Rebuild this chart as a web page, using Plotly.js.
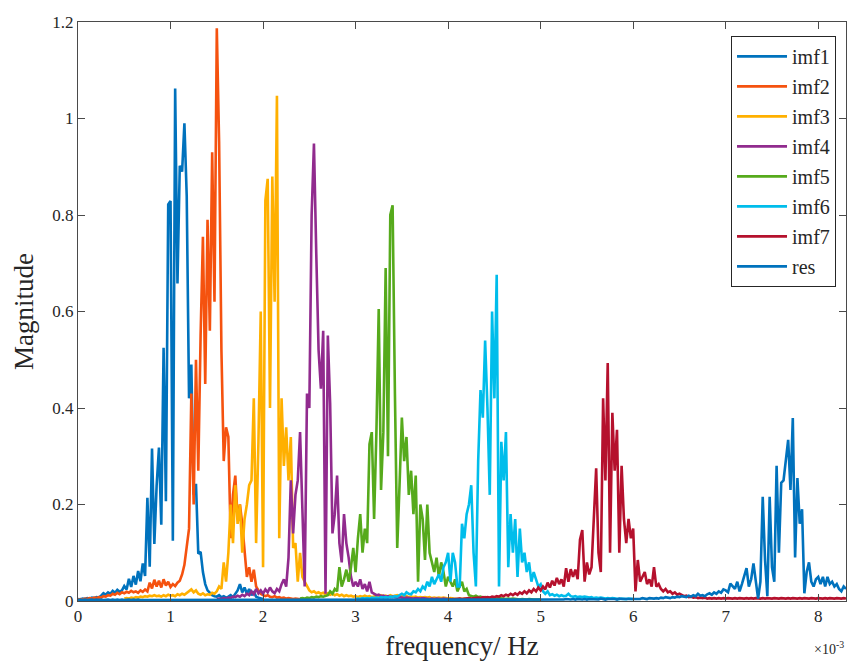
<!DOCTYPE html>
<html>
<head>
<meta charset="utf-8">
<script src="https://cdn.plot.ly/plotly-3.0.1.min.js"></script>
<style>
  html, body { margin: 0; padding: 0; background: #ffffff; }
  #chart { width: 847px; height: 662px; }
</style>
</head>
<body>
<div id="chart"></div>
<script>
// Amplitude spectra of the decomposed components.
// Frequencies are in units of 1e-3 Hz; every series is sampled on bins 0.025 apart,
// starting at its own first bin.
const binWidth = 0.025;

const seriesNames = ['imf1', 'imf2', 'imf3', 'imf4', 'imf5', 'imf6', 'imf7', 'res'];

const imf1Start = 0.0;
const imf1Mag = [
  .004,.003,.005,.004,.006,.005,.007,.006,.008,.007,
  .011,.016,.013,.018,.015,.021,.017,.023,.019,.022,
  .031,.024,.046,.029,.052,.034,.062,.041,.078,.052,
  .214,.071,.316,.118,.24,.318,.158,.525,.207,.822,
  .829,.125,1.062,.658,.902,.89,.99,.84,.42,.49,
  .22,.243,.098,.102,.06,.035,.022,.016,.012,.01,
  .009,.012,.008,.01,.007,.009,.012,.008,.015,.022,
  .035,.018,.028,.015,.025,.012,.02,.009,.007,.005,
  .004
];

const imf2Start = 0.0;
const imf2Mag = [
  .003,.004,.003,.005,.004,.006,.005,.007,.006,.008,
  .007,.01,.009,.012,.011,.015,.013,.017,.014,.018,
  .016,.019,.017,.021,.018,.02,.017,.022,.019,.024,
  .02,.038,.026,.044,.03,.042,.028,.045,.032,.04,
  .029,.035,.031,.038,.042,.055,.075,.11,.15,.43,
  .2,.5,.27,.55,.755,.45,.79,.56,.93,.62,
  1.187,.952,.52,.29,.36,.34,.13,.22,.26,.17,
  .2,.16,.1,.05,.07,.04,.065,.03,.022,.015,
  .012,.01,.012,.009,.008,.01,.007,.008,.006,.007,
  .005,.006,.005,.004,.005,.004,.004,.003,.004,.003,
  .003
];

const imf3Start = 0.5;
const imf3Mag = [
  .005,.006,.005,.007,.006,.008,.007,.009,.008,.01,
  .009,.011,.01,.012,.01,.011,.009,.012,.01,.013,
  .011,.012,.01,.014,.012,.015,.013,.017,.02,.024,
  .018,.022,.015,.013,.016,.012,.014,.013,.017,.015,
  .02,.03,.025,.08,.04,.1,.2,.12,.24,.16,
  .2,.1,.17,.2,.24,.25,.42,.12,.33,.6,
  .07,.83,.875,.4,.88,.62,1.047,.13,.42,.28,
  .36,.25,.34,.11,.12,.04,.1,.05,.04,.03,
  .022,.018,.02,.016,.018,.015,.017,.014,.016,.013,
  .015,.012,.014,.011,.013,.01,.012,.01,.011,.009,
  .01,.008,.01,.009,.011,.009,.01,.008,.01,.011,
  .009,.012,.01,.011,.009,.012,.01,.011,.012,.01,
  .011,.009,.01,.008,.009,.008,.009,.007,.008,.007,
  .008,.007,.008,.006,.007,.006,.007,.006,.007,.006,
  .005,.006,.005,.005,.004,.005,.004,.005,.004,.004,
  .004,.003,.004,.003,.004,.003,.003,.004,.003,.003,
  .003
];

const imf4Start = 1.5;
const imf4Mag = [
  .004,.005,.004,.006,.005,.007,.006,.009,.008,.011,
  .009,.013,.01,.015,.012,.02,.014,.025,.016,.022,
  .015,.024,.018,.028,.02,.016,.025,.02,.035,.045,
  .03,.09,.25,.14,.22,.25,.35,.19,.03,.43,
  .4,.8,.948,.72,.52,.44,.56,.015,.55,.41,
  .14,.18,.26,.12,.08,.18,.12,.09,.05,.03,
  .04,.03,.045,.025,.035,.02,.04,.018,.015,.012,
  .013,.01,.011,.009,.01,.008,.009,.008,.007,.008,
  .007,.006,.007,.006,.006,.005,.006,.005,.005,.006,
  .005,.005,.004,.005,.004,.005,.004,.004,.005,.004,
  .004,.003,.004,.004,.003,.004,.003,.003,.004,.003,
  .003,.003,.003
];

const imf5Start = 2.4;
const imf5Mag = [
  .005,.006,.005,.007,.006,.008,.007,.009,.008,.01,
  .009,.011,.012,.02,.015,.025,.02,.07,.03,.045,
  .065,.04,.07,.11,.06,.13,.18,.1,.15,.12,
  .325,.35,.17,.35,.605,.23,.35,.69,.3,.8,
  .82,.43,.11,.24,.38,.29,.34,.22,.27,.18,
  .26,.04,.2,.17,.085,.2,.1,.08,.06,.09,
  .05,.08,.06,.03,.05,.04,.03,.045,.02,.03,
  .04,.02,.025,.012,.01,.009,.011,.008,.009,.007,
  .008,.007,.006,.007,.006,.005,.006,.005,.005,.004,
  .005,.004,.005,.004,.004,.003,.004,.003,.003,.004,
  .003,.003,.003,.003,.003
];

const imf6Start = 3.0;
const imf6Mag = [
  .004,.005,.004,.006,.005,.006,.005,.007,.006,.007,
  .006,.008,.007,.008,.007,.009,.008,.01,.009,.012,
  .015,.012,.018,.015,.014,.02,.018,.025,.02,.03,
  .025,.04,.03,.05,.035,.045,.055,.04,.07,.08,
  .1,.04,.1,.08,.03,.03,.16,.13,.18,.2,
  .24,.1,.03,.29,.437,.38,.54,.4,.22,.6,
  .42,.676,.03,.33,.25,.35,.07,.18,.1,.17,
  .05,.15,.08,.1,.06,.08,.04,.06,.045,.03,
  .035,.02,.015,.02,.012,.014,.011,.013,.01,.012,
  .01,.011,.015,.01,.009,.01,.008,.009,.008,.009,
  .008,.007,.008,.006,.007,.006,.007,.006,.005,.006,
  .005,.006,.005,.005,.004,.005,.004,.004,.005,.004,
  .004
];

const imf7Start = 4.0;
const imf7Mag = [
  .003,.004,.003,.004,.004,.005,.004,.005,.005,.006,
  .005,.006,.006,.007,.006,.008,.007,.008,.007,.009,
  .008,.01,.009,.012,.01,.013,.011,.015,.012,.016,
  .013,.018,.015,.02,.016,.022,.018,.025,.02,.028,
  .022,.03,.024,.038,.028,.042,.032,.048,.035,.045,
  .03,.068,.04,.066,.05,.065,.045,.127,.147,.04,
  .08,.055,.07,.18,.275,.1,.06,.42,.25,.493,
  .1,.39,.27,.355,.1,.28,.17,.12,.17,.13,
  .15,.02,.085,.04,.05,.06,.035,.045,.03,.07,
  .03,.035,.025,.02,.025,.018,.02,.015,.018,.013,
  .015,.012,.01,.011,.008,.009,.007,.008,.006,.007,
  .006,.007,.005,.006,.005,.006,.005,.006,.005,.006,
  .005,.006,.005,.005,.006,.005,.006,.005,.005,.006,
  .005,.006,.005,.006,.005,.005,.006,.005,.006,.005,
  .005,.006,.005,.005,.006,.005,.005,.006,.005,.006,
  .005,.005,.006,.005,.006,.005,.005,.006,.005,.005,
  .006,.005,.005,.006,.005,.006,.005,.005,.006,.005,
  .005,.006,.005
];

const resStart = 0.0;
const resMag = [
  .002,.003,.002,.003,.002,.003,.003,.002,.003,.002,
  .003,.002,.003,.003,.002,.003,.002,.003,.002,.003,
  .002,.003,.003,.002,.003,.002,.003,.002,.002,.003,
  .003,.002,.003,.002,.003,.003,.002,.003,.002,.003,
  .002,.003,.002,.003,.003,.002,.003,.002,.003,.002,
  .003,.002,.003,.002,.003,.003,.002,.003,.002,.003,
  .002,.003,.003,.002,.003,.002,.003,.002,.003,.003,
  .002,.003,.002,.003,.002,.003,.003,.002,.003,.002,
  .003,.002,.003,.003,.002,.003,.002,.003,.002,.003,
  .002,.003,.002,.003,.003,.002,.003,.002,.003,.002,
  .003,.003,.002,.003,.002,.003,.002,.003,.003,.002,
  .003,.002,.003,.002,.003,.003,.002,.003,.002,.003,
  .002,.003,.003,.002,.003,.002,.003,.002,.003,.003,
  .002,.003,.002,.003,.002,.003,.003,.002,.003,.002,
  .003,.002,.003,.003,.002,.003,.002,.003,.002,.003,
  .002,.003,.002,.003,.003,.002,.003,.002,.003,.002,
  .003,.003,.002,.003,.002,.003,.002,.003,.003,.002,
  .003,.002,.003,.002,.003,.003,.002,.003,.002,.003,
  .002,.003,.003,.002,.003,.002,.003,.002,.003,.003,
  .002,.003,.002,.003,.002,.003,.003,.002,.003,.002,
  .003,.002,.003,.003,.002,.003,.002,.003,.002,.003,
  .003,.004,.003,.003,.004,.003,.004,.003,.003,.004,
  .003,.004,.004,.003,.004,.003,.005,.004,.003,.004,
  .004,.005,.004,.003,.005,.004,.004,.005,.004,.005,
  .004,.005,.005,.004,.006,.005,.004,.006,.005,.005,
  .006,.005,.007,.006,.008,.007,.006,.008,.007,.009,
  .008,.01,.009,.008,.011,.009,.012,.01,.015,.011,
  .012,.01,.014,.016,.013,.018,.015,.02,.017,.024,
  .022,.018,.036,.03,.025,.04,.02,.035,.05,.068,
  .03,.045,.078,.04,.005,.04,.216,.085,.01,.216,
  .07,.04,.28,.1,.245,.25,.289,.334,.23,.379,
  .09,.255,.16,.19,.016,.06,.08,.04,.03,.045,
  .05,.035,.05,.03,.05,.035,.04,.03,.035,.025,
  .02,.03,.025
];

const seriesStarts = [imf1Start, imf2Start, imf3Start, imf4Start, imf5Start, imf6Start, imf7Start, resStart];
const seriesMags = [imf1Mag, imf2Mag, imf3Mag, imf4Mag, imf5Mag, imf6Mag, imf7Mag, resMag];

const xTickValues = [0, 1, 2, 3, 4, 5, 6, 7, 8];

// line colours, in the order of the series
const lineColors = ['#0072BD', '#F5520F', '#FFB000', '#912B8E', '#56AA1C', '#00BDEB', '#B5112D', '#0072BD'];

function binFrequencies(start, count) {
  const f = [];
  for (let i = 0; i < count; i++) f.push(+(start + i * binWidth).toFixed(4));
  return f;
}

const traces = seriesNames.map((name, k) => ({
  type: 'scatter',
  mode: 'lines',
  name: name,
  legendgroup: name,
  x: binFrequencies(seriesStarts[k], seriesMags[k].length),
  y: seriesMags[k],
  line: { color: lineColors[k], width: 2.6 },
  hoverinfo: 'skip'
}));

const serif = '"Liberation Serif", "Times New Roman", serif';
const axisInk = '#4a4a4a';

const layout = {
  width: 847,
  height: 662,
  margin: { l: 78, r: 1, t: 22, b: 61 },
  paper_bgcolor: '#ffffff',
  plot_bgcolor: '#ffffff',
  font: { family: serif, color: '#262626' },
  showlegend: true,
  xaxis: {
    range: [0, 8.3],
    tickmode: 'array',
    tickvals: xTickValues,
    ticktext: xTickValues.map(String),
    ticks: 'inside',
    ticklen: 7,
    tickwidth: 1,
    tickcolor: axisInk,
    showline: true,
    linecolor: axisInk,
    linewidth: 1,
    mirror: 'ticks',
    showgrid: false,
    zeroline: false,
    tickfont: { family: serif, size: 17, color: '#262626' },
    title: { text: 'frequency/ Hz', font: { family: serif, size: 27, color: '#262626' }, standoff: 10 }
  },
  yaxis: {
    range: [0, 1.2],
    tick0: 0,
    dtick: 0.2,
    ticks: 'inside',
    ticklen: 7,
    tickwidth: 1,
    tickcolor: axisInk,
    showline: true,
    linecolor: axisInk,
    linewidth: 1,
    mirror: 'ticks',
    showgrid: false,
    zeroline: false,
    tickfont: { family: serif, size: 17, color: '#262626' },
    title: { text: 'Magnitude', font: { family: serif, size: 27, color: '#262626' }, standoff: 10 }
  },
  legend: {
    x: 0.987,
    xanchor: 'right',
    y: 0.976,
    yanchor: 'top',
    bgcolor: '#ffffff',
    bordercolor: '#262626',
    borderwidth: 1,
    font: { family: serif, size: 20, color: '#262626' },
    tracegroupgap: 1,
    itemwidth: 50
  },
  annotations: [{
    text: '×10<sup>-3</sup>',
    xref: 'paper', yref: 'paper',
    x: 1, y: -0.081,
    xanchor: 'right', yanchor: 'middle',
    showarrow: false,
    font: { family: serif, size: 14, color: '#262626' }
  }]
};

Plotly.newPlot('chart', traces, layout, { staticPlot: true, displayModeBar: false });
</script>
</body>
</html>
